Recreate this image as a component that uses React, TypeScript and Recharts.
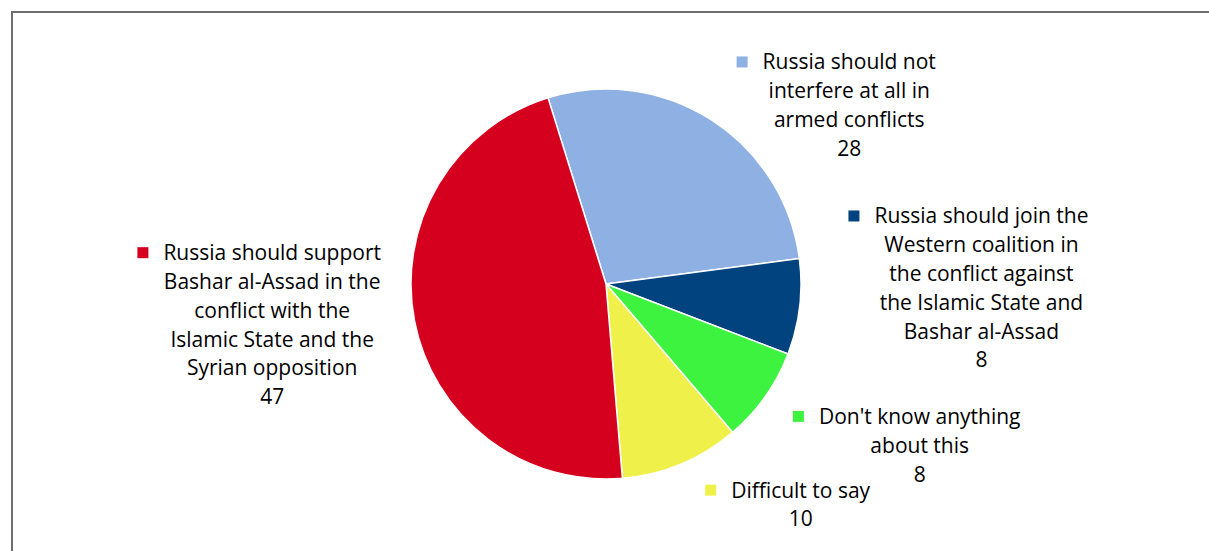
import React from 'react';
import { PieChart, Pie, Cell } from 'recharts';

const categories = [
  'Russia should not interfere at all in armed conflicts',
  'Russia should join the Western coalition in the conflict against the Islamic State and Bashar al-Assad',
  "Don't know anything about this",
  'Difficult to say',
  'Russia should support Bashar al-Assad in the conflict with the Islamic State and the Syrian opposition',
];
const values = [28, 8, 8, 10, 47];
const labelLines = [
  ['Russia should not', 'interfere at all in', 'armed conflicts'],
  ['Russia should join the', 'Western coalition in', 'the conflict against', 'the Islamic State and', 'Bashar al-Assad'],
  ["Don't know anything", 'about this'],
  ['Difficult to say'],
  ['Russia should support', 'Bashar al-Assad in the', 'conflict with the', 'Islamic State and the', 'Syrian opposition'],
];
const colors = ['#8EB0E2', '#00437F', '#3EF340', '#F0F04A', '#D4001E'];
// label block nudges relative to a radial anchor (layout only)
const labelNudges: [number, number][] = [
  [122, -25],
  [152, -87],
  [130, 10],
  [108, 6],
  [-113, -67],
];

const data = categories.map((c, i) => ({ name: c, value: values[i] }));

const FONT_FAMILY = '"Open Sans", Lato, sans-serif';
const FONT_SIZE = 21;
const LINE_H = 28.8;
const RAD = Math.PI / 180;

let ctx: CanvasRenderingContext2D | null = null;
function measure(text: string) {
  if (!ctx) {
    ctx = document.createElement('canvas').getContext('2d');
  }
  if (!ctx) return text.length * 9;
  ctx.font = `${FONT_SIZE}px ${FONT_FAMILY}`;
  return ctx.measureText(text).width;
}

const renderLabel = (props: any) => {
  const { cx, cy, midAngle, outerRadius, index } = props;
  const R = outerRadius + 30;
  const ax = cx + R * Math.cos(-midAngle * RAD) + labelNudges[index][0];
  const ay = cy + R * Math.sin(-midAngle * RAD) + labelNudges[index][1];
  const lines = [...labelLines[index], String(values[index])];
  const w = measure(lines[0]);
  return (
    <g key={`lbl-${index}`}>
      <rect x={ax - w / 2 - 26} y={ay - 13} width={11} height={11} fill={colors[index]} />
      <text textAnchor="middle" fontFamily={FONT_FAMILY} fontSize={FONT_SIZE} fill="#000">
        {lines.map((l, i) => (
          <tspan key={i} x={ax} y={ay + i * LINE_H}>
            {l}
          </tspan>
        ))}
      </text>
    </g>
  );
};

export default function App() {
  return (
    <div style={{ position: 'absolute', left: 0, top: 0, width: 1209, height: 551, overflow: 'hidden', background: '#fff' }}>
      <div
        style={{
          position: 'absolute',
          left: 11,
          top: 11,
          width: 1400,
          height: 800,
          border: '2px solid #6E6E6E',
          boxSizing: 'border-box',
        }}
      />
      <div style={{ position: 'absolute', left: 0, top: 0 }}>
        <PieChart width={1209} height={551} margin={{ top: 0, right: 0, bottom: 0, left: 0 }}>
          <Pie
            data={data}
            dataKey="value"
            nameKey="name"
            cx={606}
            cy={284}
            outerRadius={195}
            startAngle={107.3}
            endAngle={-252.7}
            stroke="#FFFFFF"
            strokeWidth={1.5}
            isAnimationActive={false}
            label={renderLabel}
            labelLine={false}
          >
            {data.map((d, i) => (
              <Cell key={d.name} fill={colors[i]} />
            ))}
          </Pie>
        </PieChart>
      </div>
    </div>
  );
}
